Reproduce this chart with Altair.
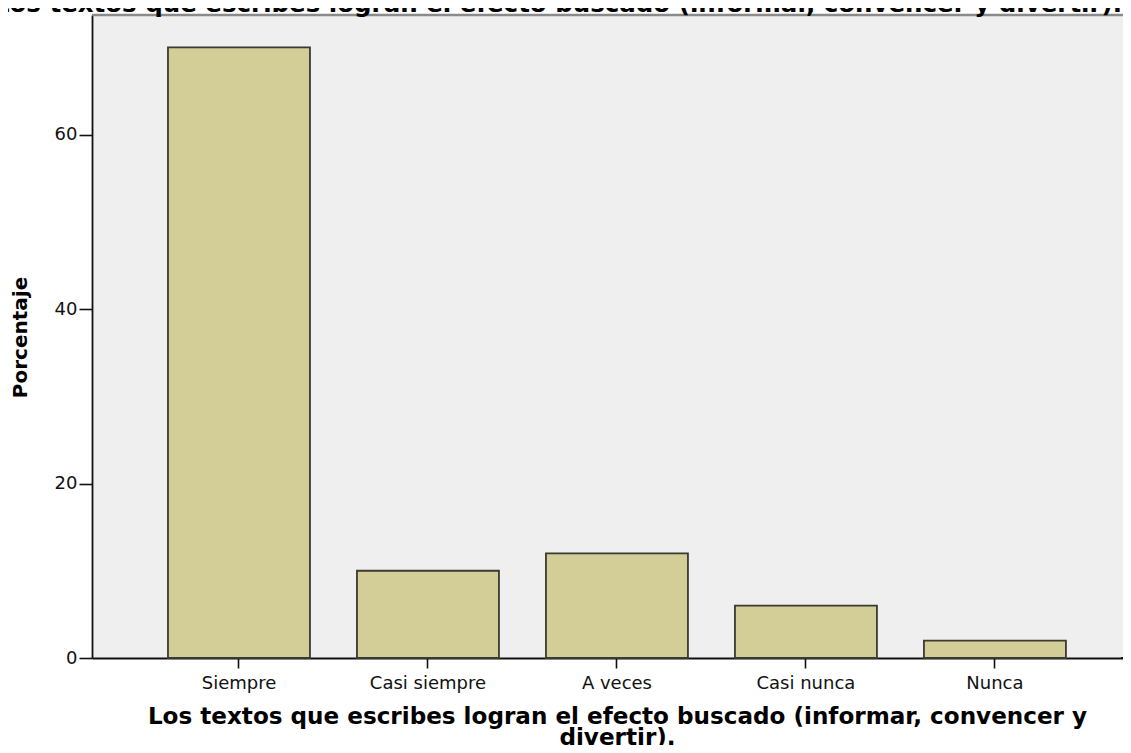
import altair as alt
import pandas as pd

categories = ["Siempre", "Casi siempre", "A veces", "Casi nunca", "Nunca"]
percentages = [70.0, 10.0, 12.0, 6.0, 2.0]
y_ticks = [0, 20, 40, 60]
x_title = ["Los textos que escribes logran el efecto buscado (informar, convencer y",
           "divertir)."]
y_title = "Porcentaje"
top_title = "Los textos que escribes logran el efecto buscado (informar, convencer y divertir)."

df = pd.DataFrame({"cat": categories, "pct": percentages})
dummy = pd.DataFrame({"v": [0]})

W = 1031
H = 643

bars = alt.Chart(df).mark_bar(
    fill="#D3CE97", stroke="#3a3a30", strokeWidth=1.8
).encode(
    x=alt.X(
        "cat:N", sort=categories,
        scale=alt.Scale(paddingInner=0.2487, paddingOuter=0.352, align=0.571),
        axis=alt.Axis(
            title=x_title, labelAngle=0, labelFont="DejaVu Sans", labelFontSize=18,
            labelColor="#111", labelPadding=6, tickSize=10, tickColor="#111",
            tickWidth=1.6, domainColor="#111", domainWidth=1.8,
            titleFont="DejaVu Sans", titleFontWeight="bold", titleFontSize=23.1,
            titleColor="#000", titleX=525, titleY=65, titleBaseline="alphabetic",
            titleAlign="center", titleLineHeight=21,
        ),
    ),
    y=alt.Y(
        "pct:Q",
        scale=alt.Scale(domain=[0, 73.7], nice=False, zero=True),
        axis=alt.Axis(
            title=y_title, values=y_ticks, grid=False, labelFont="DejaVu Sans",
            labelFontSize=18, labelColor="#111", labelPadding=2, tickSize=13,
            tickColor="#111", tickWidth=1.6, domainColor="#111", domainWidth=1.8,
            titleFont="DejaVu Sans", titleFontWeight="bold", titleFontSize=20,
            titleColor="#000", titleX=-72, titleY=322, titleBaseline="middle",
            titleAlign="center", titleAngle=270,
        ),
    ),
)

# continuation of the plot background beyond the right edge
bg_ext = alt.Chart(dummy).mark_rect(fill="#EFEFEF", strokeWidth=0).encode(
    x=alt.value(W - 1), x2=alt.value(W + 10), y=alt.value(0), y2=alt.value(H)
)
top_rule = alt.Chart(dummy).mark_rule(color="#8a8a8a", strokeWidth=2.5).encode(
    x=alt.value(0), x2=alt.value(W + 10), y=alt.value(0)
)
bottom_ext = alt.Chart(dummy).mark_rule(color="#111", strokeWidth=1.8).encode(
    x=alt.value(W - 2), x2=alt.value(W + 10), y=alt.value(H)
)

title_text = alt.Chart(pd.DataFrame({"t": [top_title]})).mark_text(
    font="DejaVu Sans", fontWeight="bold", fontSize=24.5, align="center",
    baseline="alphabetic", color="#000"
).encode(x=alt.value(466), y=alt.value(-3), text="t:N")

chart = alt.layer(bg_ext, top_rule, bars, bottom_ext, title_text).properties(
    width=W, height=H,
    padding={"left": 84, "top": 7, "right": 0, "bottom": 87},
    autosize=alt.AutoSizeParams(type="none"),
    background="white",
).configure_view(fill="#EFEFEF", stroke=None)

chart.save("out.html", embed_options={"renderer": "svg", "actions": False})
